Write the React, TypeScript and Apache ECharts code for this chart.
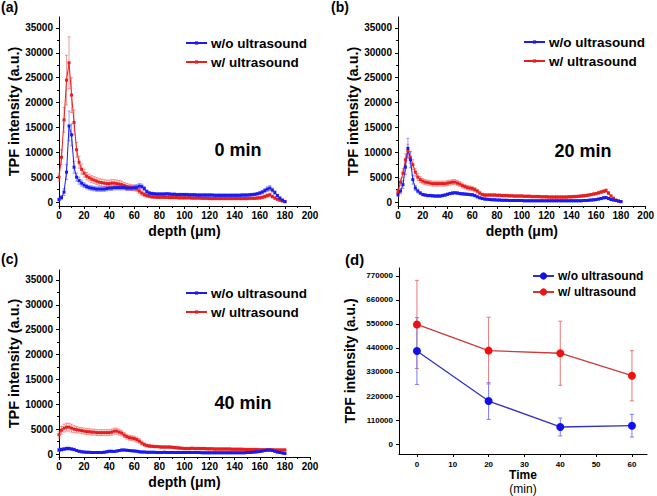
import React, { useEffect, useRef } from 'react';
import * as echarts from 'echarts';

const depth = [0,2,4,6,8,10,12,14,16,18,20,22,24,26,28,30,32,34,36,38,40,42,44,46,48,50,52,54,56,58,60,62,64,66,68,70,72,74,76,78,80,82,84,86,88,90,92,94,96,98,100,102,104,106,108,110,112,114,116,118,120,122,124,126,128,130,132,134,136,138,140,142,144,146,148,150,152,154,156,158,160,162,164,166,168,170,172,174,176,178,180];

// Panel (a) 0 min
const aRed = [5000,9000,16500,24500,28000,21500,16000,10500,8000,6600,
  5800,5200,4900,4600,4400,4200,4000,3900,3800,3700,
  3700,3800,3800,3700,3600,3500,3300,3100,3000,2900,
  2800,2600,2200,1800,1500,1300,1150,1050,1000,950,
  950,950,950,950,900,900,900,900,850,850,
  850,850,850,800,800,800,800,750,750,750,
  700,700,700,700,700,700,700,700,700,700,
  700,700,700,700,700,700,750,750,750,800,
  850,950,1100,1300,1450,1100,800,550,350,200,50];
const aRedErr = [800,1500,2500,5000,5200,3500,2500,1500,1200,1000,
  800,750,700,700,700,700,700,700,700,700,
  700,700,700,700,700,700,650,650,600,600,
  550,500,500,450,400,350,300,300,250,250,
  250,250,250,250,250,250,250,250,250,250,
  250,250,250,250,250,250,250,250,250,250,
  250,250,250,250,250,250,250,250,250,250,
  250,250,250,250,250,250,250,250,250,250,
  300,300,350,350,350,300,250,200,150,100,50];
const aBlue = [500,900,2000,6000,15300,13500,7000,5000,4300,3800,
  3400,3100,2900,2800,2700,2600,2600,2600,2600,2700,
  2800,2800,2900,2900,2900,2900,2900,2800,2800,2800,
  2900,3000,3200,3100,2700,2100,1800,1700,1650,1600,
  1600,1600,1600,1650,1600,1550,1550,1500,1500,1500,
  1500,1500,1450,1450,1450,1400,1400,1400,1400,1400,
  1400,1400,1350,1350,1350,1350,1350,1350,1350,1350,
  1350,1350,1350,1400,1400,1400,1450,1500,1550,1650,
  1800,2000,2300,2600,2800,2400,1900,1300,800,400,100];
const aBlueErr = [300,400,700,1500,3000,2200,1200,800,700,600,
  500,450,450,450,450,450,450,450,450,450,
  450,450,450,450,450,450,450,450,450,450,
  500,500,550,500,450,350,300,300,250,250,
  250,250,250,250,250,250,250,250,250,250,
  250,250,250,250,250,250,250,250,250,250,
  250,250,250,250,250,250,250,250,250,250,
  250,250,250,250,250,250,250,250,250,250,
  300,350,400,450,500,400,350,250,200,150,100];

// Panel (b) 20 min
const bRed = [2100,4000,5800,8500,10300,9000,7500,6000,5000,4500,
  4200,4000,3900,3800,3700,3700,3700,3700,3700,3700,
  3800,3900,4000,4000,3800,3600,3300,3100,2900,2800,
  2700,2500,2200,1800,1500,1400,1400,1400,1400,1400,
  1350,1350,1300,1300,1300,1250,1250,1200,1200,1200,
  1200,1150,1150,1150,1100,1100,1100,1100,1050,1050,
  1050,1000,1000,1000,1000,1000,1000,1000,1000,1050,
  1050,1100,1100,1150,1200,1250,1300,1400,1500,1600,
  1700,1850,2000,2150,2300,1800,1200,750,400,200,50];
const bRedErr = [500,700,900,1200,1300,1200,1000,800,700,600,
  550,500,500,500,500,500,500,500,500,500,
  500,500,500,500,500,500,500,450,450,450,
  400,400,400,350,300,300,250,250,250,250,
  250,250,250,250,250,250,250,250,250,250,
  250,250,250,250,250,250,250,250,250,250,
  250,250,250,250,250,250,250,250,250,250,
  250,250,250,250,250,250,250,250,250,250,
  250,300,300,300,350,300,250,200,150,100,50];
const bBlue = [1500,2200,3500,7000,10800,8500,4500,2800,2200,1800,
  1500,1400,1300,1300,1250,1200,1200,1200,1300,1400,
  1550,1700,1800,1850,1800,1700,1650,1600,1550,1500,
  1450,1300,1050,850,700,600,550,500,450,450,
  400,400,350,350,350,300,300,300,300,300,
  300,250,250,250,250,250,250,250,250,250,
  250,250,250,250,250,250,250,250,250,250,
  250,250,250,250,250,300,300,350,400,450,
  500,600,700,850,900,700,500,400,300,200,100];
const bBlueErr = [400,500,800,1500,2000,1600,900,500,400,300,
  250,250,250,250,250,250,250,250,250,250,
  250,250,250,250,250,250,250,250,250,250,
  250,250,200,200,200,200,200,200,200,200,
  200,200,200,200,200,200,200,200,200,200,
  200,200,200,200,200,200,200,200,200,200,
  200,200,200,200,200,200,200,200,200,200,
  200,200,200,200,200,200,200,200,200,200,
  200,200,200,250,250,200,200,150,150,100,50];

// Panel (c) 40 min
const cRed = [3900,4800,5200,5400,5400,5200,5000,4900,4800,4700,
  4600,4500,4500,4400,4400,4300,4300,4300,4300,4300,
  4300,4400,4600,4600,4400,4200,3800,3500,3300,3200,
  3100,2900,2600,2200,1900,1700,1600,1550,1500,1500,
  1450,1400,1400,1400,1400,1350,1300,1250,1200,1150,
  1100,1100,1100,1150,1100,1100,1100,1100,1100,1050,
  1050,1050,1000,1000,1000,1000,1000,1000,1000,950,
  950,950,950,950,900,900,900,900,900,900,
  850,850,850,850,850,850,800,800,800,800,800];
const cRedErr = [700,800,800,800,800,800,700,650,600,600,
  600,600,600,600,600,600,600,600,600,600,
  600,600,600,600,600,550,500,500,500,500,
  500,500,450,400,350,300,300,250,250,250,
  250,250,250,250,250,250,250,250,250,250,
  250,250,250,250,250,250,250,250,250,250,
  250,250,250,250,250,250,250,250,250,250,
  250,250,250,250,250,250,250,250,250,250,
  250,250,250,250,250,250,250,250,250,250,250];
const cBlue = [800,900,1000,1100,1100,1000,900,700,550,450,
  400,350,350,300,300,300,300,300,350,450,
  550,550,500,600,700,800,800,750,700,650,
  600,550,450,400,400,350,350,350,350,300,
  300,300,350,300,300,300,300,300,300,300,
  300,300,300,300,300,300,300,250,250,250,
  250,250,250,250,250,250,250,250,250,250,
  250,250,250,250,250,300,300,350,400,450,
  500,600,700,800,800,700,550,400,300,200,100];
const cBlueErr = [300,300,300,300,300,250,250,200,200,200,
  200,200,200,200,200,200,200,200,200,200,
  200,200,200,200,200,200,200,200,200,200,
  200,200,200,200,200,200,200,200,200,200,
  200,200,200,200,200,200,200,200,200,200,
  200,200,200,200,200,200,200,200,200,200,
  200,200,200,200,200,200,200,200,200,200,
  200,200,200,200,200,200,200,200,200,200,
  200,200,200,200,200,200,200,200,200,200,200];

// Panel (d) integrated intensity vs time
const dTime = [0, 20, 40, 60];
const dBlue = [426000, 197000, 78000, 84000];
const dBlueErr = [153000, 84000, 41000, 52000];
const dRed = [548000, 428000, 416000, 313000];
const dRedErr = [202000, 153000, 147000, 115000];

const intensityTicks = [0, 5000, 10000, 15000, 20000, 25000, 30000, 35000];
const intensityMinor = [2500, 7500, 12500, 17500, 22500, 27500, 32500];
const timeTicks = [0, 10, 20, 30, 40, 50, 60];
const totalTicks = [0, 110000, 220000, 330000, 440000, 550000, 660000, 770000];

const FONT = '"Liberation Sans", Arial, sans-serif';
const BLUE = '#1a1af2';
const RED = '#e81e1e';
const BLUE_ERR = 'rgba(90,90,255,0.75)';
const RED_ERR = 'rgba(235,90,90,0.75)';
const plain = (v: number) => String(v);

const pairs = (xs: number[], ys: number[]) => xs.map((x, i) => [x, ys[i]]);
const errs = (xs: number[], ys: number[], es: number[]) => xs.map((x, i) => [x, ys[i] - es[i], ys[i] + es[i]]);

function errSeries(data: number[][], xi: number, yi: number, color: string, cap: number, lw: number) {
  return {
    type: 'custom',
    xAxisIndex: xi,
    yAxisIndex: yi,
    silent: true,
    data,
    encode: { x: 0, y: [1, 2] },
    renderItem: (params: any, api: any) => {
      const x = api.value(0);
      const lo = api.coord([x, api.value(1)]);
      const hi = api.coord([x, api.value(2)]);
      const st = { stroke: color, lineWidth: lw };
      return {
        type: 'group',
        children: [
          { type: 'line', shape: { x1: lo[0], y1: lo[1], x2: hi[0], y2: hi[1] }, style: st },
          { type: 'line', shape: { x1: hi[0] - cap, y1: hi[1], x2: hi[0] + cap, y2: hi[1] }, style: st },
          { type: 'line', shape: { x1: lo[0] - cap, y1: lo[1], x2: lo[0] + cap, y2: lo[1] }, style: st },
        ],
      };
    },
  };
}

function lineSeries(name: string, data: number[][], xi: number, yi: number, color: string, symbol: string, size: number, lineColor: string, lw: number) {
  return {
    type: 'line',
    name,
    xAxisIndex: xi,
    yAxisIndex: yi,
    data,
    symbol,
    symbolSize: size,
    showSymbol: true,
    itemStyle: { color },
    lineStyle: { color: lineColor, width: lw },
    silent: true,
  };
}

const axisLineStyle = { show: true, lineStyle: { color: '#000', width: 1 } };

function depthAxis(gi: number) {
  return {
    type: 'value', gridIndex: gi, min: 0, max: 200, interval: 20,
    position: 'bottom',
    axisLine: { ...axisLineStyle, onZero: false },
    axisTick: { show: true, inside: false, length: 3, lineStyle: { color: '#000' } },
    minorTick: { show: true, splitNumber: 2, length: 2, lineStyle: { color: '#000' } },
    splitLine: { show: false },
    axisLabel: { fontSize: 10, fontWeight: 'bold', color: '#000', fontFamily: FONT, margin: 4, formatter: plain },
    name: 'depth (μm)', nameLocation: 'middle', nameGap: 18,
    nameTextStyle: { fontSize: 14, fontWeight: 'bold', color: '#000', fontFamily: FONT },
  };
}

function intensityAxis(gi: number, min: number, max: number) {
  return {
    type: 'value', gridIndex: gi, min, max, position: 'left',
    axisLine: { ...axisLineStyle, onZero: false },
    axisTick: { show: true, inside: false, length: 3, customValues: intensityTicks, lineStyle: { color: '#000' } },
    splitLine: { show: false },
    axisLabel: { customValues: intensityTicks, fontSize: 10, fontWeight: 'bold', color: '#000', fontFamily: FONT, margin: 6, formatter: plain },
    name: 'TPF intensity (a.u.)', nameLocation: 'middle', nameGap: 37,
    nameTextStyle: { fontSize: 14.5, fontWeight: 'bold', color: '#000', fontFamily: FONT },
  };
}

function minorYAxis(gi: number, min: number, max: number) {
  return {
    type: 'value', gridIndex: gi, min, max, position: 'left', offset: 0,
    axisLine: { show: false },
    axisTick: { show: true, inside: false, length: 2, customValues: intensityMinor, lineStyle: { color: '#000' } },
    splitLine: { show: false },
    axisLabel: { show: false },
  };
}

function legendFor(tag: string, left: number, top: number, fontSize: number, itemHeight: number, gap: number) {
  return {
    orient: 'vertical', left, top, padding: 0,
    itemWidth: 21, itemHeight, itemGap: gap,
    data: ['w/o ultrasound|' + tag, 'w/ ultrasound|' + tag],
    formatter: (n: string) => n.split('|')[0],
    textStyle: { fontSize, fontWeight: 'bold', color: '#000', fontFamily: FONT, padding: [0, 0, 0, -1] },
    selectedMode: false,
  };
}

export default function App() {
  const ref = useRef<HTMLDivElement>(null);
  useEffect(() => {
    if (!ref.current) return;
    const chart = echarts.init(ref.current, null, { renderer: 'svg' });
    const option: any = {
      animation: false,
      backgroundColor: '#fff',
      grid: [
        { left: 59, top: 17, width: 251, height: 189 },
        { left: 398, top: 17, width: 250, height: 189 },
        { left: 59, top: 270, width: 251, height: 187 },
        { left: 399, top: 268, width: 248, height: 186 },
      ],
      xAxis: [
        depthAxis(0),
        depthAxis(1),
        depthAxis(2),
        {
          type: 'value', gridIndex: 3, min: -5, max: 64.2, position: 'bottom',
          axisLine: { ...axisLineStyle, onZero: false },
          axisTick: { show: true, inside: false, length: 3, customValues: timeTicks, lineStyle: { color: '#000' } },
          splitLine: { show: false },
          axisLabel: { customValues: timeTicks, fontSize: 8, fontWeight: 'bold', color: '#000', fontFamily: FONT, margin: 6, formatter: plain },
          name: '{b|Time}\n{r|(min)}', nameLocation: 'middle', nameGap: 14,
          nameTextStyle: {
            color: '#000', fontFamily: FONT,
            rich: {
              b: { fontSize: 12, fontWeight: 'bold', color: '#000', fontFamily: FONT, lineHeight: 14 },
              r: { fontSize: 12, fontWeight: 'normal', color: '#000', fontFamily: FONT, lineHeight: 14 },
            },
          },
        },
      ],
      yAxis: [
        intensityAxis(0, -800, 37200),
        intensityAxis(1, -800, 37200),
        intensityAxis(2, -600, 37000),
        {
          type: 'value', gridIndex: 3, min: -45800, max: 806600, position: 'left',
          axisLine: { ...axisLineStyle, onZero: false },
          axisTick: { show: true, inside: false, length: 3, customValues: totalTicks, lineStyle: { color: '#000' } },
          splitLine: { show: false },
          axisLabel: { customValues: totalTicks, fontSize: 8, fontWeight: 'bold', color: '#000', fontFamily: FONT, margin: 6, formatter: plain },
          name: 'TPF intensity (a.u.)', nameLocation: 'middle', nameGap: 42,
          nameTextStyle: { fontSize: 14, fontWeight: 'bold', color: '#000', fontFamily: FONT },
        },
        minorYAxis(0, -800, 37200),
        minorYAxis(1, -800, 37200),
        minorYAxis(2, -600, 37000),
      ],
      legend: [
        legendFor('a', 185, 36, 13.5, 4, 5),
        legendFor('b', 523, 35, 13.5, 4, 5),
        legendFor('c', 185, 286, 13.5, 4, 5),
        legendFor('d', 532, 270, 12, 9, 4),
      ],
      graphic: [
        { type: 'text', left: 1, top: 0, style: { text: '(a)', fontSize: 14, fontWeight: 'bold', fill: '#000', fontFamily: FONT } },
        { type: 'text', left: 331, top: 0, style: { text: '(b)', fontSize: 14, fontWeight: 'bold', fill: '#000', fontFamily: FONT } },
        { type: 'text', left: 1, top: 252, style: { text: '(c)', fontSize: 14, fontWeight: 'bold', fill: '#000', fontFamily: FONT } },
        { type: 'text', left: 345, top: 252, style: { text: '(d)', fontSize: 15, fontWeight: 'bold', fill: '#000', fontFamily: FONT } },
        { type: 'text', x: 238, y: 150, style: { text: '0 min', fontSize: 18, fontWeight: 'bold', fill: '#000', fontFamily: FONT, textAlign: 'center', textVerticalAlign: 'middle' } },
        { type: 'text', x: 583, y: 151, style: { text: '20 min', fontSize: 18, fontWeight: 'bold', fill: '#000', fontFamily: FONT, textAlign: 'center', textVerticalAlign: 'middle' } },
        { type: 'text', x: 243, y: 403, style: { text: '40 min', fontSize: 18, fontWeight: 'bold', fill: '#000', fontFamily: FONT, textAlign: 'center', textVerticalAlign: 'middle' } },
      ],
      series: [
        errSeries(errs(depth, aRed, aRedErr), 0, 0, RED_ERR, 1.5, 0.8),
        lineSeries('w/ ultrasound|a', pairs(depth, aRed), 0, 0, RED, 'rect', 3, RED, 1),
        errSeries(errs(depth, aBlue, aBlueErr), 0, 0, BLUE_ERR, 1.5, 0.8),
        lineSeries('w/o ultrasound|a', pairs(depth, aBlue), 0, 0, BLUE, 'rect', 3, BLUE, 1),

        errSeries(errs(depth, bRed, bRedErr), 1, 1, RED_ERR, 1.5, 0.8),
        lineSeries('w/ ultrasound|b', pairs(depth, bRed), 1, 1, RED, 'rect', 3, RED, 1),
        errSeries(errs(depth, bBlue, bBlueErr), 1, 1, BLUE_ERR, 1.5, 0.8),
        lineSeries('w/o ultrasound|b', pairs(depth, bBlue), 1, 1, BLUE, 'rect', 3, BLUE, 1),

        errSeries(errs(depth, cRed, cRedErr), 2, 2, RED_ERR, 1.5, 0.8),
        lineSeries('w/ ultrasound|c', pairs(depth, cRed), 2, 2, RED, 'rect', 3, RED, 1),
        errSeries(errs(depth, cBlue, cBlueErr), 2, 2, BLUE_ERR, 1.5, 0.8),
        lineSeries('w/o ultrasound|c', pairs(depth, cBlue), 2, 2, BLUE, 'rect', 3, BLUE, 1),

        errSeries(errs(dTime, dRed, dRedErr), 3, 3, '#e27a7a', 2, 1),
        errSeries(errs(dTime, dBlue, dBlueErr), 3, 3, '#7b7bea', 2, 1),
        lineSeries('w/ ultrasound|d', pairs(dTime, dRed), 3, 3, '#f01010', 'circle', 8, '#cc3a3a', 1.3),
        lineSeries('w/o ultrasound|d', pairs(dTime, dBlue), 3, 3, '#1010e8', 'circle', 8, '#3030c8', 1.3),
      ],
    };
    chart.setOption(option);
    return () => chart.dispose();
  }, []);
  return <div ref={ref} style={{ position: 'fixed', left: 0, top: 0, width: 657, height: 496, background: '#fff' }} />;
}
